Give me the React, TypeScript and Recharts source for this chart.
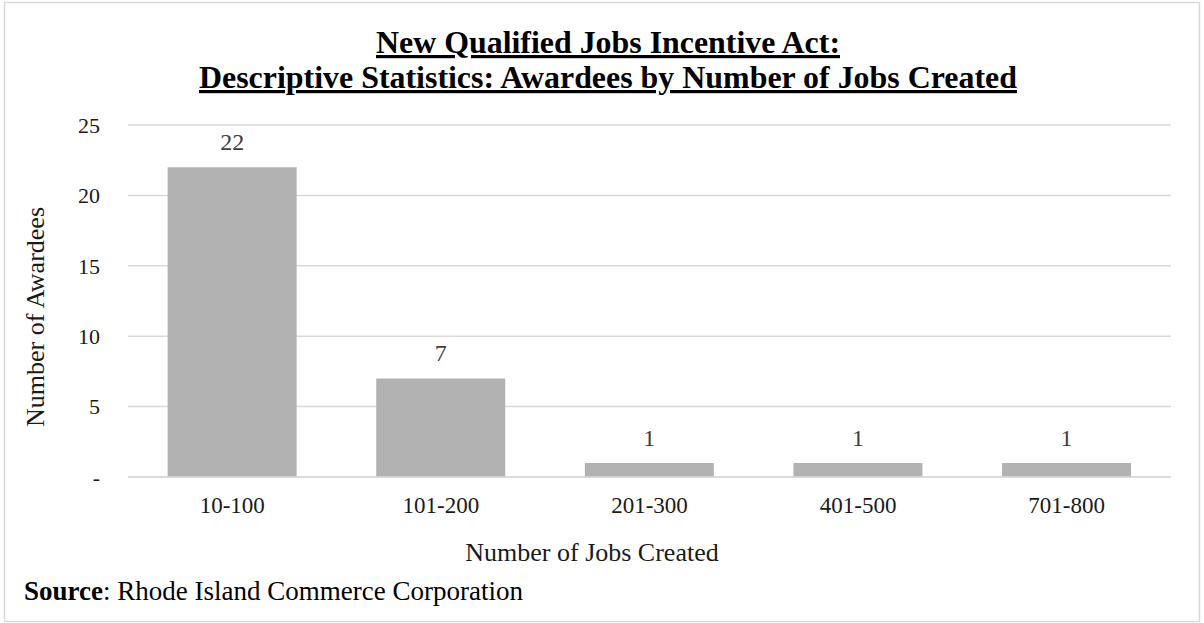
import React from 'react';
import { BarChart, Bar, XAxis, YAxis, CartesianGrid, LabelList } from 'recharts';

const categories = ['10-100', '101-200', '201-300', '401-500', '701-800'];
const awardees = [22, 7, 1, 1, 1];
const yTicks = [0, 5, 10, 15, 20, 25];

const titleLine1 = 'New Qualified Jobs Incentive Act:';
const titleLine2 = 'Descriptive Statistics: Awardees by Number of Jobs Created';
const xTitle = 'Number of Jobs Created';
const yTitle = 'Number of Awardees';
const sourceLabel = 'Source';
const sourceText = ': Rhode Island Commerce Corporation';

const data = categories.map((c, i) => ({ category: c, awardees: awardees[i] }));

const FONT = '"Liberation Serif", "Times New Roman", serif';

export default function App() {
  return (
    <div style={{ position: 'absolute', left: 0, top: 0, width: 1204, height: 623, background: '#fff', fontFamily: FONT }}>
      <BarChart
        width={1204}
        height={623}
        data={data}
        margin={{ top: 125, right: 33, bottom: 116, left: 100 }}
        barCategoryGap="19%"
      >
        <CartesianGrid horizontal vertical={false} stroke="#d9d9d9" strokeWidth={1.5} />
        <XAxis
          dataKey="category"
          height={30}
          axisLine={{ stroke: '#d9d9d9', strokeWidth: 1.5 }}
          tickLine={false}
          tickSize={0}
          tickMargin={20}
          interval={0}
          tick={{ fill: '#1a1a1a', fontSize: 23, fontFamily: FONT }}
        />
        <YAxis
          width={28}
          domain={[0, 25]}
          ticks={yTicks}
          axisLine={false}
          tickLine={false}
          tickSize={0}
          tickMargin={28}
          tickFormatter={(v: number) => (v === 0 ? '-' : String(v))}
          tick={{ fill: '#1a1a1a', fontSize: 22, fontFamily: FONT }}
        />
        <Bar dataKey="awardees" fill="#b2b2b2" isAnimationActive={false}>
          <LabelList dataKey="awardees" position="top" offset={17} fill="#404040" fontSize={24} fontFamily={FONT} />
        </Bar>
      </BarChart>
      <svg
        width={1204}
        height={623}
        style={{ position: 'absolute', left: 0, top: 0, pointerEvents: 'none' }}
      >
        <rect x={4.5} y={2.5} width={1195} height={619} fill="none" stroke="#d9d9d9" strokeWidth={1.5} />
        <text x={608} y={53} textAnchor="middle" fontSize={32} fontWeight="bold" fontFamily={FONT} fill="#000"
          textDecoration="underline" textLength={464} lengthAdjust="spacingAndGlyphs">{titleLine1}</text>
        <text x={608} y={88} textAnchor="middle" fontSize={32} fontWeight="bold" fontFamily={FONT} fill="#000"
          textDecoration="underline" textLength={818} lengthAdjust="spacingAndGlyphs">{titleLine2}</text>
        <text x={592} y={561} textAnchor="middle" fontSize={26} fontFamily={FONT} fill="#1a1a1a">{xTitle}</text>
        <text x={44} y={317} textAnchor="middle" fontSize={26} fontFamily={FONT} fill="#1a1a1a"
          transform="rotate(-90, 44, 317)">{yTitle}</text>
        <text x={24} y={600} fontSize={27} fontFamily={FONT} fill="#000">
          <tspan fontWeight="bold">{sourceLabel}</tspan>
          <tspan>{sourceText}</tspan>
        </text>
      </svg>
    </div>
  );
}
